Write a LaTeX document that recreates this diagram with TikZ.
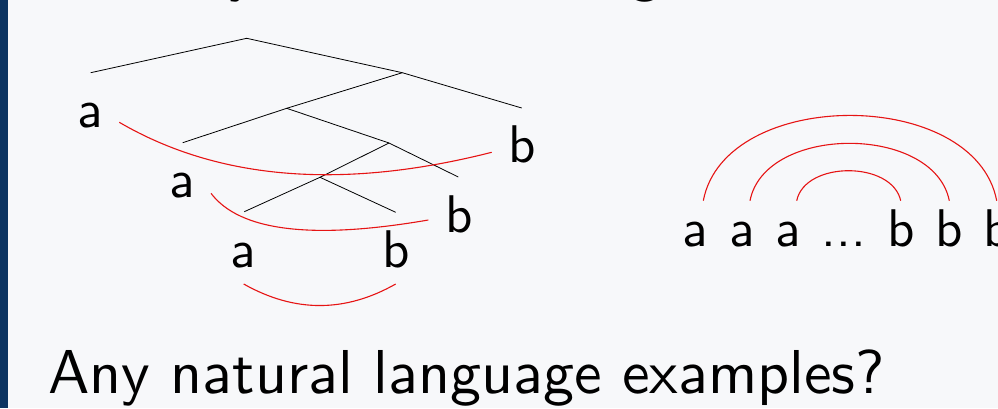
\documentclass[tikz,border=0pt]{standalone}
\usepackage{fontspec}
\newfontfamily\lmsten{lmsans10-regular.otf}
\definecolor{bgc}{RGB}{247,248,250}
\definecolor{barc}{RGB}{12,52,97}
\definecolor{arcred}{RGB}{230,20,20}
\begin{document}
\begin{tikzpicture}[x=1pt,y=-1pt,
  treeline/.style={black,line width=0.8pt},
  redarc/.style={arcred,line width=1.1pt},
  lbl/.style={inner sep=0pt,anchor=base,font=\lmsten\fontsize{53}{60}\selectfont},
  big/.style={inner sep=0pt,anchor=base west,font=\lmsten\fontsize{62}{70}\selectfont},
  ttl/.style={inner sep=0pt,anchor=base,font=\lmsten\fontsize{62}{70}\selectfont}]
\useasboundingbox (0,0) rectangle (998,408);
\clip (0,0) rectangle (998,408);
\fill[bgc] (0,0) rectangle (998,408);
\fill[barc] (0,0) rectangle (7.5,408);
% title fragments
\node[ttl] (ty) at (243,-11) {y};
\node[ttl] (tg) at (645,-10.5) {g};
% tree
\coordinate (r) at (246.7,38.3);
\coordinate (l1) at (90.7,72.7);
\coordinate (n1) at (402.3,72.7);
\coordinate (n2) at (286.7,108.3);
\coordinate (r1) at (521.7,108);
\coordinate (l2) at (182.7,142.7);
\coordinate (n3) at (389,143);
\coordinate (n4) at (320,177.3);
\coordinate (r2) at (458.3,177);
\coordinate (l3) at (244.3,211.7);
\coordinate (r3) at (395.7,212.3);
\draw[treeline] (l1) -- (r) -- (n1) -- (r1);
\draw[treeline] (n2) -- (n1);
\draw[treeline] (l2) -- (n2) -- (n3) -- (r2);
\draw[treeline] (l3) -- (n4) -- (r3);
\draw[treeline] (n4) -- (n3);
% tree labels
\node[lbl] (a1) at (90,127) {a};
\node[lbl] (b1) at (522,162) {b};
\node[lbl] (a2) at (182,197) {a};
\node[lbl] (b2) at (459,232) {b};
\node[lbl] (a3) at (243,267) {a};
\node[lbl] (b3) at (396.5,267) {b};
% red dependency arcs (tree)
\coordinate (p1s) at (119.3,122.3);
\coordinate (p1e) at (491.7,152.3);
\coordinate (p2s) at (211,193.3);
\coordinate (p2e) at (428.3,220);
\coordinate (p3s) at (243.7,284);
\coordinate (p3e) at (395.7,284);
\draw[redarc] (p1s) .. controls (218.4,180.1) and (342.6,190.1) .. (p1e);
\draw[redarc] (p2s) .. controls (239.7,231.1) and (312.1,240) .. (p2e);
\draw[redarc] (p3s) .. controls (294.6,312.7) and (345,312.7) .. (p3e);
% right string
\node[lbl] (s1) at (695.5,246) {a};
\node[lbl] (s2) at (742,246) {a};
\node[lbl] (s3) at (788,246) {a};
\node[lbl] (s4) at (843.7,246) {...};
\node[lbl] (s5) at (901,246) {b};
\node[lbl] (s6) at (949,246) {b};
\node[lbl] (s7) at (997,246) {b};
\coordinate (q1s) at (796.7,200.7);
\coordinate (q1e) at (900.7,200.7);
\coordinate (q2s) at (750,200.7);
\coordinate (q2e) at (949.3,200.7);
\coordinate (q3s) at (703.3,200.7);
\coordinate (q3e) at (996.7,200.7);
\draw[redarc] (q1s) .. controls (805,160.7) and (892,160.7) .. (q1e);
\draw[redarc] (q2s) .. controls (765,124.2) and (934,124.2) .. (q2e);
\draw[redarc] (q3s) .. controls (725,87) and (975,87) .. (q3e);
% bottom text
\node[big] (q) at (48,393) {Any natural language examples?};
\end{tikzpicture}
\end{document}
